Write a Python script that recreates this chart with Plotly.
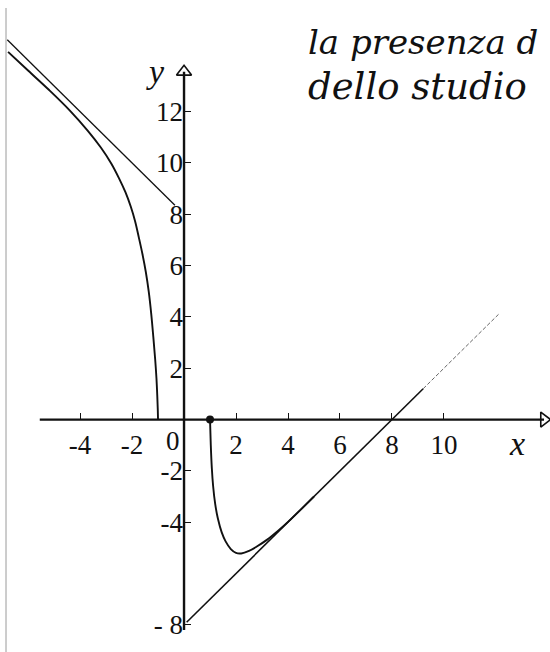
import plotly.graph_objects as go

# ---- data -------------------------------------------------------------
# left branch of the curve (x <= -1)
left_x = [-6.77, -6.0, -5.2, -4.4, -3.7, -3.2, -2.8, -2.5, -2.25, -2.05, -1.88,
          -1.74, -1.6, -1.47, -1.36, -1.26, -1.18, -1.11, -1.06, -1.03, -1.01, -1.0]
left_y = [14.33, 13.6, 12.85, 12.05, 11.25, 10.6, 9.98, 9.4, 8.85, 8.3, 7.72,
          7.1, 6.45, 5.75, 5.0, 4.1, 3.2, 2.35, 1.6, 0.95, 0.4, 0.0]

# right branch of the curve (x >= 1)
right_x = [1.0, 1.03, 1.07, 1.12, 1.2, 1.3, 1.45, 1.6, 1.8, 2.0, 2.2, 2.5,
           2.8, 3.2, 3.6, 4.0, 4.5, 5.0]
right_y = [0.0, -1.0, -1.9, -2.6, -3.3, -3.85, -4.4, -4.75, -5.05, -5.2, -5.22, -5.12,
           -4.95, -4.68, -4.35, -3.99, -3.5, -3.0]

# oblique asymptotes y = -x + 8 (left) and y = x - 8 (right)
asym_left_x = [-6.8, -0.35]
asym_left_y = [14.8, 8.35]
asym_right_x = [0.1, 9.2]
asym_right_y = [-7.9, 1.2]
# lighter continuation of the right branch along its asymptote
tail_x = [9.2, 12.1]
tail_y = [1.2, 4.1]

# point where the right branch starts
start_pt_x = [1.0]
start_pt_y = [0.0]

# axis extents (arrow tips at the far end)
x_axis_ext = [-5.55, 13.85]
y_axis_ext = [-8.2, 13.55]

x_tick_vals = [-4, -2, 2, 4, 6, 8, 10]
x_tick_text = ["-4", "-2", "2", "4", "6", "8", "10"]
y_tick_vals = [-8, -4, -2, 2, 4, 6, 8, 10, 12]
y_tick_text = ["- 8", "-4", "-2", "2", "4", "6", "8", "10", "12"]

X_RANGE = [-7.08, 14.08]
Y_RANGE = [-9.06, 16.35]

# ---- figure -------------------------------------------------------------
INK = "#111111"
SERIF = "Liberation Serif, Times New Roman, serif"

fig = go.Figure()

# axes drawn as lines through the origin
fig.add_trace(go.Scatter(x=x_axis_ext, y=[0, 0], mode="lines",
                         line=dict(color=INK, width=2.2), hoverinfo="skip"))
fig.add_trace(go.Scatter(x=[0, 0], y=y_axis_ext, mode="lines",
                         line=dict(color=INK, width=2.4), hoverinfo="skip"))
# open arrow heads
fig.add_trace(go.Scatter(x=[x_axis_ext[1]], y=[0], mode="markers",
                         marker=dict(symbol="triangle-right-open", size=13,
                                     color=INK, line=dict(width=1.6, color=INK)),
                         hoverinfo="skip"))
fig.add_trace(go.Scatter(x=[0], y=[y_axis_ext[1]], mode="markers",
                         marker=dict(symbol="triangle-up-open", size=13,
                                     color=INK, line=dict(width=1.6, color=INK)),
                         hoverinfo="skip"))

# asymptotes
fig.add_trace(go.Scatter(x=asym_left_x, y=asym_left_y, mode="lines",
                         line=dict(color=INK, width=1.3), hoverinfo="skip"))
fig.add_trace(go.Scatter(x=asym_right_x, y=asym_right_y, mode="lines",
                         line=dict(color=INK, width=1.6), hoverinfo="skip"))
fig.add_trace(go.Scatter(x=tail_x, y=tail_y, mode="lines",
                         line=dict(color="#666666", width=1.0, dash="4px,2px"),
                         hoverinfo="skip"))

# the two branches of the curve
fig.add_trace(go.Scatter(x=left_x, y=left_y, mode="lines",
                         line=dict(color=INK, width=1.9, shape="spline", smoothing=1.0),
                         hoverinfo="skip"))
fig.add_trace(go.Scatter(x=right_x, y=right_y, mode="lines",
                         line=dict(color=INK, width=1.9, shape="spline", smoothing=1.0),
                         hoverinfo="skip"))
fig.add_trace(go.Scatter(x=start_pt_x, y=start_pt_y, mode="markers",
                         marker=dict(color=INK, size=8), hoverinfo="skip"))

x_pos = (0 - Y_RANGE[0]) / (Y_RANGE[1] - Y_RANGE[0])
y_pos = (0 - X_RANGE[0]) / (X_RANGE[1] - X_RANGE[0])

fig.update_layout(
    width=550, height=652,
    margin=dict(l=0, r=0, t=0, b=0),
    paper_bgcolor="white", plot_bgcolor="white",
    showlegend=False,
    xaxis=dict(range=X_RANGE, anchor="free", position=x_pos,
               showline=False, zeroline=False, showgrid=False,
               tickmode="array", tickvals=x_tick_vals, ticktext=x_tick_text,
               ticks="inside", ticklen=7, tickwidth=1.4, tickcolor=INK,
               ticklabelstandoff=6,
               tickfont=dict(family=SERIF, size=27, color=INK)),
    yaxis=dict(range=Y_RANGE, anchor="free", position=y_pos,
               showline=False, zeroline=False, showgrid=False,
               tickmode="array", tickvals=y_tick_vals, ticktext=y_tick_text,
               ticks="inside", ticklen=6, tickwidth=1.4, tickcolor=INK,
               ticklabelstandoff=1,
               tickfont=dict(family=SERIF, size=27, color=INK)),
)

# origin label and axis names
fig.add_annotation(x=-0.42, y=-0.82, text="0", showarrow=False,
                   font=dict(family=SERIF, size=27, color=INK))
fig.add_annotation(x=-1.08, y=13.55, text="<i>y</i>", showarrow=False,
                   font=dict(family=SERIF, size=34, color=INK))
fig.add_annotation(x=12.8, y=-0.95, text="<i>x</i>", showarrow=False,
                   font=dict(family=SERIF, size=34, color=INK))

# handwritten note in the top right corner
fig.add_annotation(xref="paper", yref="paper", x=306 / 550, y=1 - 42 / 652,
                   xanchor="left", yanchor="middle", showarrow=False,
                   text="<i>la presenza d</i>",
                   font=dict(family="DejaVu Serif, serif", size=34, color=INK))
fig.add_annotation(xref="paper", yref="paper", x=306 / 550, y=1 - 86 / 652,
                   xanchor="left", yanchor="middle", showarrow=False,
                   text="<i>dello studio</i>",
                   font=dict(family="DejaVu Serif, serif", size=37, color=INK))

# left edge of the sheet
fig.add_shape(type="line", xref="paper", yref="paper",
              x0=6 / 550, x1=6 / 550, y0=0, y1=1 - 8 / 652,
              line=dict(color="#9a9a9a", width=1))

fig.write_html("out.html")
